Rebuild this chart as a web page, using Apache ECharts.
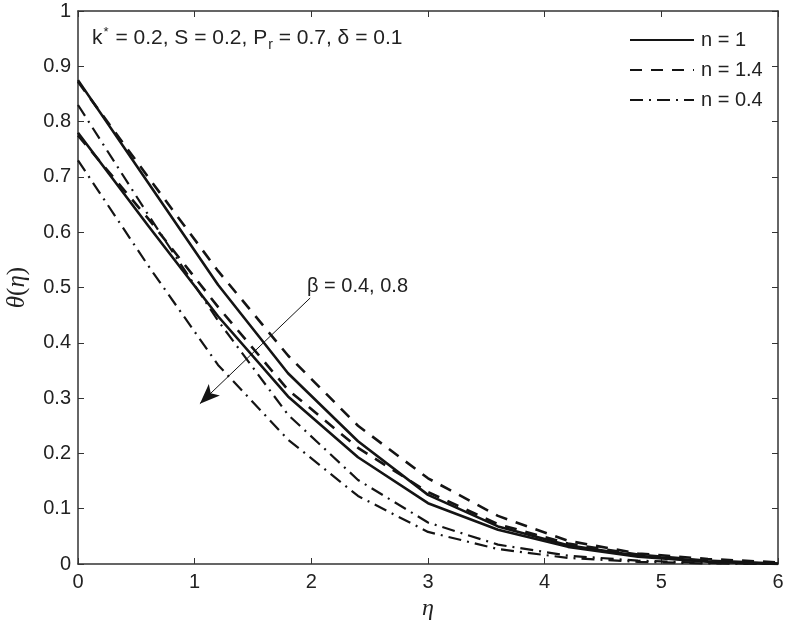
<!DOCTYPE html>
<html>
<head>
<meta charset="utf-8">
<script src="https://cdn.jsdelivr.net/npm/echarts@6/dist/echarts.min.js"></script>
<style>
  html, body { margin: 0; padding: 0; background: #fff; }
  #chart { width: 787px; height: 622px; }
</style>
</head>
<body>
<div id="chart"></div>
<script>
// eta grid and theta values
const eta = [0, 0.6, 1.2, 1.8, 2.4, 3.0, 3.6, 4.2, 4.8, 5.4, 6.0];
// beta = 0.4
const solidB04 = [0.875, 0.69, 0.505, 0.345, 0.222, 0.125, 0.068, 0.034, 0.015, 0.005, 0];
const dashB04 = [0.872, 0.70, 0.53, 0.377, 0.25, 0.155, 0.087, 0.042, 0.019, 0.009, 0.003];
const dotDashB04 = [0.83, 0.632, 0.44, 0.27, 0.152, 0.075, 0.035, 0.015, 0.006, 0.002, 0];
// beta = 0.8
const solidB08 = [0.78, 0.612, 0.448, 0.303, 0.193, 0.11, 0.062, 0.031, 0.013, 0.004, 0];
const dashB08 = [0.775, 0.625, 0.465, 0.315, 0.21, 0.13, 0.072, 0.037, 0.017, 0.006, 0.001];
const dotDashB08 = [0.73, 0.54, 0.36, 0.225, 0.123, 0.058, 0.027, 0.011, 0.004, 0.001, 0];

const xTicks = [0, 1, 2, 3, 4, 5, 6];
const yTicks = [0, 0.1, 0.2, 0.3, 0.4, 0.5, 0.6, 0.7, 0.8, 0.9, 1];
const arrowFrom = [1.99, 0.481];
const arrowTo = [1.045, 0.29];

const ink = '#141414';
const font = 'Liberation Sans, Arial, sans-serif';
const serif = 'Liberation Serif, DejaVu Serif, serif';

const pairs = ys => eta.map((x, i) => [x, ys[i]]);

const styles = {
  'n = 1': { type: 'solid', width: 2.6 },
  'n = 1.4': { type: [12, 9], width: 2.6 },
  'n = 0.4': { type: [13, 6, 2, 6], width: 2.2 }
};

function curve(name, ys) {
  return {
    name: name,
    type: 'line',
    data: pairs(ys),
    showSymbol: false,
    symbol: 'none',
    lineStyle: Object.assign({ color: ink }, styles[name]),
    itemStyle: { color: ink },
    emphasis: { disabled: true },
    silent: true,
    z: 3
  };
}

const series = [
  curve('n = 1', solidB04),
  curve('n = 1.4', dashB04),
  curve('n = 0.4', dotDashB04),
  curve('n = 1', solidB08),
  curve('n = 1.4', dashB08),
  curve('n = 0.4', dotDashB08)
];
series[0].markLine = {
  silent: true,
  symbol: ['none', 'arrow'],
  symbolSize: [12, 20],
  lineStyle: { color: ink, width: 1, type: 'solid' },
  label: { show: false },
  data: [[{ coord: arrowFrom }, { coord: arrowTo }]]
};

const tickFmt = v => String(+v.toFixed(1));

const baseAxis = {
  type: 'value',
  axisLine: { show: true, onZero: false, lineStyle: { color: '#333', width: 1.5 } },
  axisTick: { show: true, inside: true, length: 6, lineStyle: { color: '#333' } },
  splitLine: { show: false },
  axisLabel: { color: '#222', fontSize: 20, fontFamily: font, formatter: tickFmt }
};

const chart = echarts.init(document.getElementById('chart'));
chart.setOption({
  animation: false,
  backgroundColor: '#fff',
  grid: { left: 78, right: 9, top: 11, bottom: 58, containLabel: false, outerBoundsMode: 'none' },
  legend: {
    data: ['n = 1', 'n = 1.4', 'n = 0.4'],
    orient: 'vertical',
    left: 624,
    top: 25,
    itemWidth: 64,
    itemHeight: 14,
    itemGap: 10,
    itemStyle: { opacity: 0 },
    textStyle: { color: '#222', fontSize: 20, fontFamily: font, padding: [0, 0, 0, 2] },
    selectedMode: false
  },
  xAxis: [
    Object.assign({}, baseAxis, {
      min: 0, max: 6, interval: 1,
      position: 'bottom',
      axisLabel: Object.assign({}, baseAxis.axisLabel, { margin: 8 }),
      name: 'η',
      nameLocation: 'middle',
      nameGap: 27,
      nameTextStyle: { fontFamily: serif, fontStyle: 'italic', fontSize: 24, color: '#222' }
    }),
    Object.assign({}, baseAxis, {
      min: 0, max: 6, interval: 1,
      position: 'top',
      axisLabel: { show: false }
    })
  ],
  yAxis: [
    Object.assign({}, baseAxis, {
      min: 0, max: 1, interval: 0.1,
      position: 'left',
      axisLabel: Object.assign({}, baseAxis.axisLabel, { margin: 7 }),
      name: '{i|θ}{n|(}{i|η}{n|)}',
      nameLocation: 'middle',
      nameGap: 48,
      nameRotate: 90,
      nameTextStyle: {
        rich: {
          i: { fontFamily: serif, fontStyle: 'italic', fontSize: 25, color: '#222' },
          n: { fontFamily: serif, fontSize: 25, color: '#222' }
        }
      }
    }),
    Object.assign({}, baseAxis, {
      min: 0, max: 1, interval: 0.1,
      position: 'right',
      axisLabel: { show: false }
    })
  ],
  graphic: [
    {
      type: 'text',
      left: 92,
      top: 25,
      style: {
        text: '{a|k}{s|*}{a| = 0.2, S = 0.2, P}{b|r}{a| = 0.7, δ = 0.1}',
        rich: {
          a: { fontSize: 21, fontFamily: font, fill: '#222', verticalAlign: 'middle', lineHeight: 26 },
          s: { fontSize: 13, fontFamily: font, fill: '#222', padding: [0, 1, 13, 1], lineHeight: 26 },
          b: { fontSize: 14, fontFamily: font, fill: '#222', padding: [13, 0, 0, 1], lineHeight: 26 }
        }
      }
    },
    {
      type: 'text',
      left: 307,
      top: 276,
      style: { text: 'β = 0.4, 0.8', font: '20px ' + font, fill: '#222' }
    }
  ],
  series: series
});
</script>
</body>
</html>
